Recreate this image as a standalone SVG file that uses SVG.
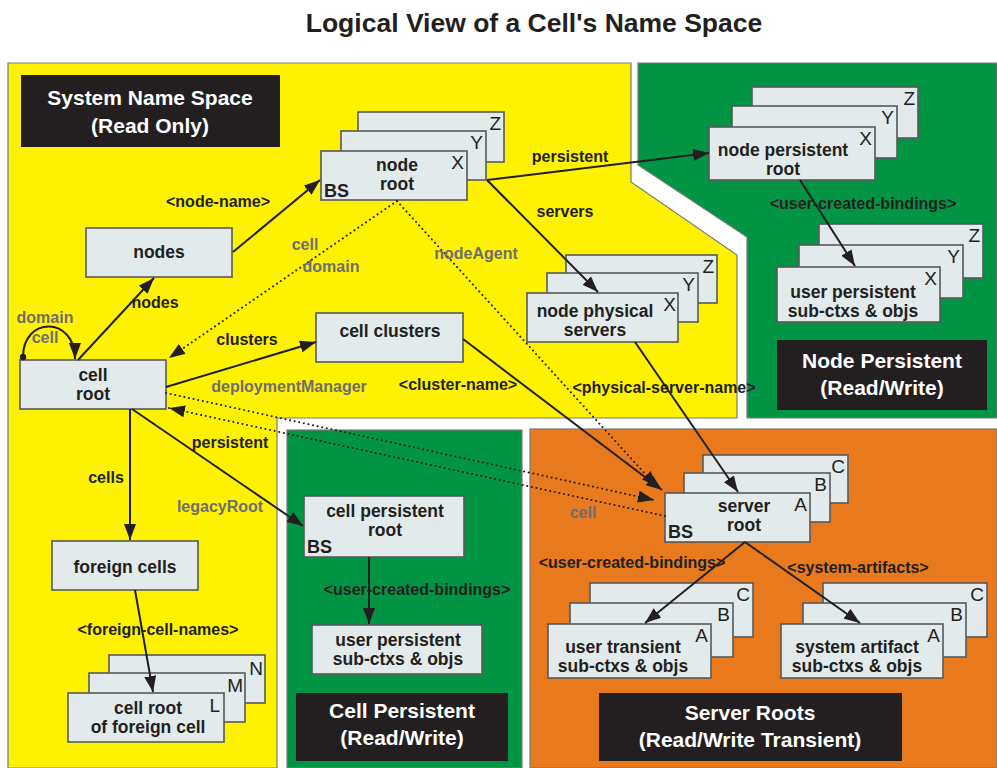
<svg xmlns="http://www.w3.org/2000/svg" width="997" height="768" viewBox="0 0 997 768">
<defs>
<style>
text{font-family:"Liberation Sans",Arial,Helvetica,sans-serif}
.title{font-size:26.5px;font-weight:bold;fill:#231f20;text-anchor:middle}
.reg{stroke:#7a7a7a;stroke-width:1.2}
.lbox{fill:#231f20}
.ltxt{font-size:21px;font-weight:bold;fill:#ffffff;text-anchor:middle}
.box{fill:#e2eaec;stroke:#58595b;stroke-width:1.6}
.nt{font-size:17.5px;font-weight:bold;fill:#231f20;text-anchor:middle}
.bs{font-size:18px;font-weight:bold;fill:#231f20}
.let{font-size:19px;fill:#231f20;text-anchor:end}
.el{font-size:16px;font-weight:bold;fill:#231f20;text-anchor:middle}
.gl{font-size:16px;font-weight:bold;fill:#6d6e71;text-anchor:middle}
.solid{fill:none;stroke:#231f20;stroke-width:2;marker-end:url(#ah)}
.dot{fill:none;stroke:#231f20;stroke-width:2;stroke-dasharray:0.1 4.6;stroke-linecap:round;marker-end:url(#ah)}
</style>
<marker id="ah" viewBox="0 0 16 12" refX="16" refY="6" markerWidth="16" markerHeight="12" markerUnits="userSpaceOnUse" orient="auto">
<path d="M0,0 L16,6 L0,12 Z" fill="#231f20"/>
</marker>
</defs>
<rect x="0" y="0" width="997" height="768" fill="#ffffff"/>
<text class="title" x="534" y="32">Logical View of a Cell's Name Space</text>

<g id="regions">
<polygon class="reg" fill="#fff200" points="8,63 631,63 631,182 737,255 737,418 277,418 277,768 8,768"/>
<polygon class="reg" fill="#009444" points="638,63 997,63 997,418 747,418 747,237 638,165"/>
<rect class="reg" fill="#009444" x="287" y="430" width="235" height="338"/>
<rect class="reg" fill="#e8791c" x="530" y="429" width="467" height="339"/>
</g>

<g id="region-labels">
<g id="lbl-system">
<rect class="lbox" x="21" y="75" width="259" height="72"/>
<text class="ltxt" x="150" y="105">System Name Space</text>
<text class="ltxt" x="150" y="133">(Read Only)</text>
</g>
<g id="lbl-nodepersistent">
<rect class="lbox" x="777" y="340" width="210" height="70"/>
<text class="ltxt" x="882" y="368">Node Persistent</text>
<text class="ltxt" x="882" y="395">(Read/Write)</text>
</g>
<g id="lbl-cellpersistent">
<rect class="lbox" x="296" y="693" width="212" height="68"/>
<text class="ltxt" x="402" y="718">Cell Persistent</text>
<text class="ltxt" x="402" y="745">(Read/Write)</text>
</g>
<g id="lbl-serverroots">
<rect class="lbox" x="599" y="693" width="303" height="68"/>
<text class="ltxt" x="750" y="720">Server Roots</text>
<text class="ltxt" x="750" y="747">(Read/Write Transient)</text>
</g>
</g>

<g id="nodes">
<g id="n-nodes">
<rect class="box" x="86" y="228" width="146" height="49"/>
<text class="nt" x="159" y="258">nodes</text>
</g>
<g id="n-noderoot">
<rect class="box" x="358" y="112" width="146" height="50"/>
<text class="let" x="501" y="130">Z</text>
<rect class="box" x="341" y="131" width="145" height="49"/>
<text class="let" x="483" y="149">Y</text>
<rect class="box" x="321" y="151" width="146" height="49"/>
<text class="let" x="464" y="169">X</text>
<text class="nt" x="397" y="171">node</text>
<text class="nt" x="397" y="190">root</text>
<text class="bs" x="324" y="197">BS</text>
</g>
<g id="n-cellroot">
<rect class="box" x="20" y="360" width="146" height="49"/>
<text class="nt" x="93" y="381">cell</text>
<text class="nt" x="93" y="400">root</text>
</g>
<g id="n-cellclusters">
<rect class="box" x="316" y="313" width="147" height="49"/>
<text class="nt" x="390" y="337">cell clusters</text>
</g>
<g id="n-nodephysical">
<rect class="box" x="566" y="255" width="151" height="48"/>
<text class="let" x="714" y="273">Z</text>
<rect class="box" x="547" y="273" width="151" height="49"/>
<text class="let" x="695" y="291">Y</text>
<rect class="box" x="527" y="293" width="151" height="49"/>
<text class="let" x="676" y="311">X</text>
<text class="nt" x="595" y="317">node physical</text>
<text class="nt" x="595" y="336">servers</text>
</g>
<g id="n-nodepersistentroot">
<rect class="box" x="752" y="87" width="166" height="51"/>
<text class="let" x="915" y="105">Z</text>
<rect class="box" x="732" y="106" width="165" height="52"/>
<text class="let" x="894" y="124">Y</text>
<rect class="box" x="709" y="127" width="166" height="53"/>
<text class="let" x="872" y="145">X</text>
<text class="nt" x="783" y="156">node persistent</text>
<text class="nt" x="783" y="175">root</text>
</g>
<g id="n-userpersistent-node">
<rect class="box" x="819" y="224" width="164" height="54"/>
<text class="let" x="980" y="242">Z</text>
<rect class="box" x="799" y="245" width="164" height="53"/>
<text class="let" x="960" y="263">Y</text>
<rect class="box" x="777" y="267" width="163" height="55"/>
<text class="let" x="937" y="285">X</text>
<text class="nt" x="853" y="298">user persistent</text>
<text class="nt" x="853" y="317">sub-ctxs &amp; objs</text>
</g>
<g id="n-foreigncells">
<rect class="box" x="52" y="541" width="146" height="49"/>
<text class="nt" x="125" y="573">foreign cells</text>
</g>
<g id="n-foreignroot">
<rect class="box" x="109" y="655" width="156" height="48"/>
<text class="let" x="263" y="675">N</text>
<rect class="box" x="89" y="673" width="156" height="49"/>
<text class="let" x="243" y="692">M</text>
<rect class="box" x="68" y="693" width="156" height="49"/>
<text class="let" x="220" y="712">L</text>
<text class="nt" x="148" y="714">cell root</text>
<text class="nt" x="148" y="733">of foreign cell</text>
</g>
<g id="n-cellpersistentroot">
<rect class="box" x="304" y="496" width="160" height="61"/>
<text class="nt" x="385" y="517">cell persistent</text>
<text class="nt" x="385" y="536">root</text>
<text class="bs" x="307" y="553">BS</text>
</g>
<g id="n-userpersistent-cell">
<rect class="box" x="312" y="625" width="170" height="49"/>
<text class="nt" x="398" y="646">user persistent</text>
<text class="nt" x="398" y="665">sub-ctxs &amp; objs</text>
</g>
<g id="n-serverroot">
<rect class="box" x="703" y="455" width="145" height="48"/>
<text class="let" x="845" y="473">C</text>
<rect class="box" x="684" y="473" width="146" height="49"/>
<text class="let" x="827" y="491">B</text>
<rect class="box" x="665" y="493" width="145" height="49"/>
<text class="let" x="807" y="511">A</text>
<text class="nt" x="744" y="512">server</text>
<text class="nt" x="744" y="531">root</text>
<text class="bs" x="668" y="538">BS</text>
</g>
<g id="n-usertransient">
<rect class="box" x="590" y="583" width="163" height="54"/>
<text class="let" x="750" y="601">C</text>
<rect class="box" x="570" y="603" width="163" height="54"/>
<text class="let" x="730" y="621">B</text>
<rect class="box" x="548" y="624" width="163" height="54"/>
<text class="let" x="708" y="642">A</text>
<text class="nt" x="623" y="653">user transient</text>
<text class="nt" x="623" y="672">sub-ctxs &amp; objs</text>
</g>
<g id="n-systemartifact">
<rect class="box" x="823" y="583" width="164" height="54"/>
<text class="let" x="984" y="601">C</text>
<rect class="box" x="803" y="603" width="163" height="54"/>
<text class="let" x="963" y="621">B</text>
<rect class="box" x="781" y="624" width="162" height="54"/>
<text class="let" x="940" y="642">A</text>
<text class="nt" x="857" y="653">system artifact</text>
<text class="nt" x="857" y="672">sub-ctxs &amp; objs</text>
</g>
</g>

<g id="connectors">
<path class="solid" d="M233,252 L320,180"/>
<path class="solid" d="M78,360 L154,278"/>
<path class="solid" d="M23,357 C23,316 75,316 75,359"/>
<circle cx="23" cy="357" r="3.2" fill="#231f20"/>
<path class="solid" d="M166,387 L316,342"/>
<path class="solid" d="M487,180 L709,153"/>
<path class="solid" d="M487,180 L598,292"/>
<path class="solid" d="M800,180 L855,266"/>
<path class="solid" d="M130,409 L130,540"/>
<path class="solid" d="M132,409 L303,526"/>
<path class="solid" d="M135,590 L153,692"/>
<path class="solid" d="M463,339 L662,490"/>
<path class="solid" d="M635,342 L738,492"/>
<path class="solid" d="M369,557 L369,624"/>
<path class="solid" d="M745,542 L645,623"/>
<path class="solid" d="M745,542 L860,623"/>
<path class="dot" d="M397,201 L169,358"/>
<path class="dot" d="M397,201 L657,487"/>
<path class="dot" d="M166,393 L654,500"/>
<path class="dot" d="M665,516 L169,408"/>
</g>

<g id="edge-labels">
<text class="el" x="218" y="207">&lt;node-name&gt;</text>
<text class="el" x="155" y="308">nodes</text>
<text class="gl" x="45" y="323">domain</text>
<text class="gl" x="45" y="343">cell</text>
<text class="el" x="247" y="345">clusters</text>
<text class="gl" x="305" y="250">cell</text>
<text class="gl" x="331" y="272">domain</text>
<text class="gl" x="476" y="259">nodeAgent</text>
<text class="el" x="570" y="162">persistent</text>
<text class="el" x="565" y="217">servers</text>
<text class="el" x="863" y="209">&lt;user-created-bindings&gt;</text>
<text class="gl" x="289" y="392">deploymentManager</text>
<text class="el" x="458" y="390">&lt;cluster-name&gt;</text>
<text class="el" x="664" y="393">&lt;physical-server-name&gt;</text>
<text class="el" x="230" y="448">persistent</text>
<text class="gl" x="220" y="512">legacyRoot</text>
<text class="el" x="106" y="483">cells</text>
<text class="el" x="158" y="635">&lt;foreign-cell-names&gt;</text>
<text class="el" x="417" y="595">&lt;user-created-bindings&gt;</text>
<text class="gl" x="583" y="518">cell</text>
<text class="el" x="632" y="568">&lt;user-created-bindings&gt;</text>
<text class="el" x="858" y="573">&lt;system-artifacts&gt;</text>
</g>
</svg>
